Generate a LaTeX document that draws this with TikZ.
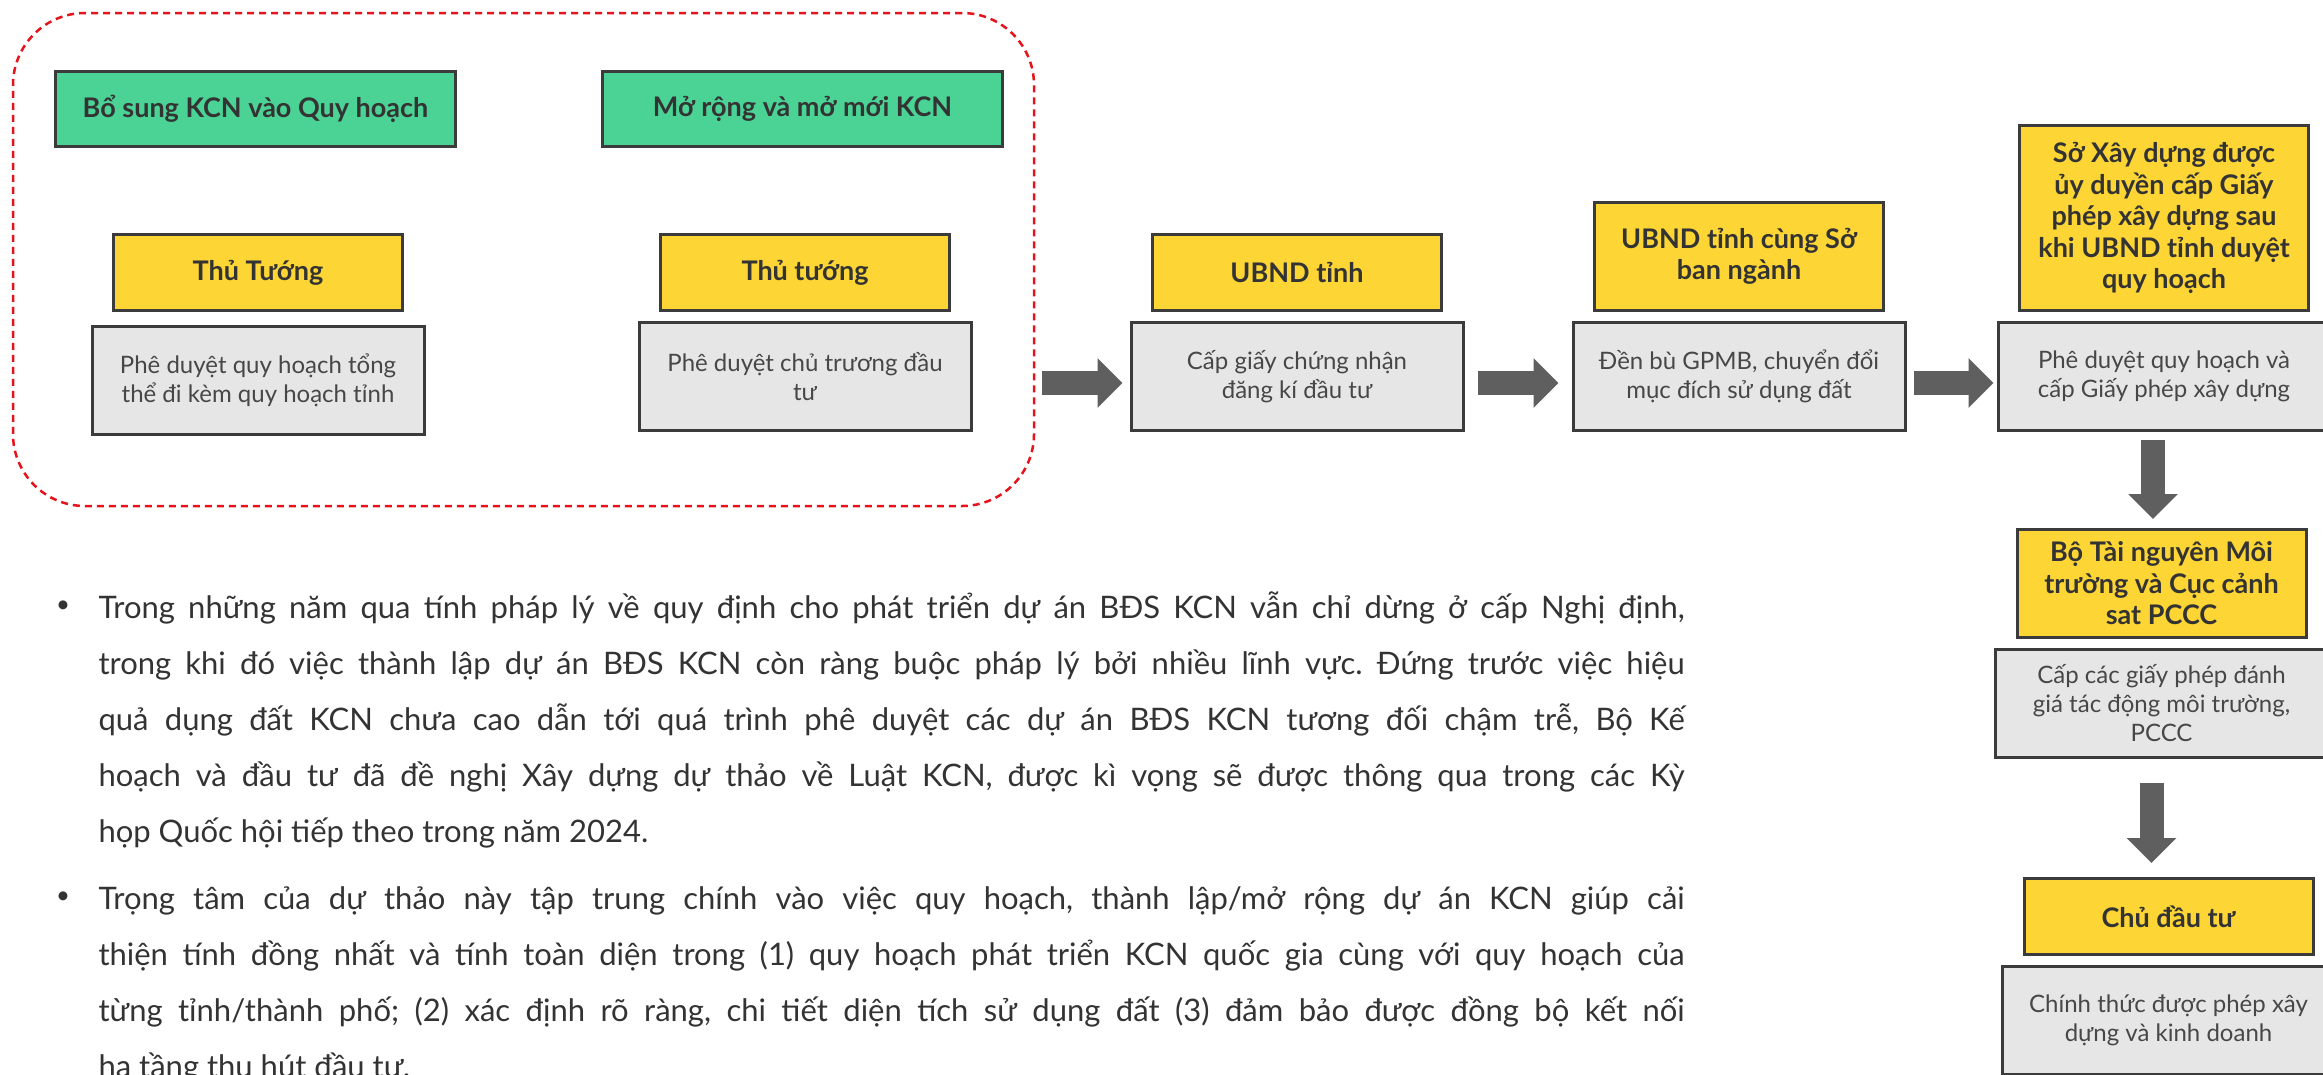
\documentclass[tikz,border=0pt]{standalone}
\usepackage{fontspec}
\setmainfont{Lato}
\usetikzlibrary{arrows.meta,positioning}
\frenchspacing

\definecolor{kcngreen}{HTML}{4BD396}
\definecolor{kcnyellow}{HTML}{FDD535}
\definecolor{kcngray}{HTML}{E6E6E6}
\definecolor{kcnline}{HTML}{3B3B3B}
\definecolor{kcnarrow}{HTML}{5F5F5F}
\definecolor{kcnred}{HTML}{E5141C}
\definecolor{kcntext}{HTML}{333333}

\begin{document}
\begin{tikzpicture}[x=1pt,y=-1pt,node distance=9pt,line width=3pt]
  \tikzstyle{kbox}=[draw=kcnline,line width=3pt,align=center,text=kcntext,inner sep=4pt]
  \tikzstyle{greenbox}=[kbox,fill=kcngreen,minimum width=400pt,minimum height=75pt,
                        font=\bfseries\fontsize{27}{31.5}\selectfont]
  \tikzstyle{yellowbox}=[kbox,fill=kcnyellow,minimum width=289pt,minimum height=76pt,
                         font=\bfseries\fontsize{27}{31.5}\selectfont]
  \tikzstyle{graybox}=[kbox,fill=kcngray,minimum width=332pt,minimum height=108pt,
                       text=kcntext!90,font=\fontsize{24}{29}\selectfont]
  \tikzstyle{groupbox}=[draw=kcnred,line width=2.5pt,dash pattern=on 7pt off 5pt,
                        rounded corners=72pt,minimum width=1021pt,minimum height=493pt]
  \tikzstyle{fatarrow}=[draw=kcnarrow,line width=24pt,-{Triangle[width=48pt,length=25pt]}]
  \tikzstyle{bulletpara}=[anchor=base west,text width=1586pt,align=justify,inner sep=0pt,
                          text=kcntext,font=\fontsize{31}{56}\selectfont]
  \tikzstyle{bulletdot}=[inner sep=0pt,text=kcntext,font=\fontsize{24}{24}\selectfont]

  \fill[white] (0,0) rectangle (2323,1074);
  \useasboundingbox (0,0) rectangle (2323,1074);

  % left group
  \node[groupbox] (grp) at (523.5,259.5) {};
  \node[greenbox] (bs) at (255.5,109) {Bổ sung KCN vào Quy hoạch};
  \node[greenbox] (mr) at (802.5,109) {Mở rộng và mở mới KCN};
  \node[yellowbox] (tt1) at (258,272.5) {Thủ Tướng};
  \node[graybox] (pd1) [below=13pt of tt1] {Phê duyệt quy hoạch tổng\\thể đi kèm quy hoạch tỉnh};
  \node[yellowbox] (tt2) at (805,272.5) {Thủ tướng};
  \node[graybox] (pd2) [below=of tt2] {Phê duyệt chủ trương đầu\\tư};

  % steps
  \node[yellowbox] (ub1) at (1297,272.5) {UBND tỉnh};
  \node[graybox] (pd3) [below=of ub1] {Cấp giấy chứng nhận\\đăng kí đầu tư};
  \node[yellowbox,minimum height=108pt] (ub2) at (1739,256.5) {UBND tỉnh cùng Sở\\ban ngành};
  \node[graybox] (pd4) [below=of ub2] {Đền bù GPMB, chuyển đổi\\mục đích sử dụng đất};
  \node[yellowbox,minimum height=185pt] (sxd) at (2164,218) {Sở Xây dựng được\\ủy duyền cấp Giấy\\phép xây dựng sau\\khi UBND tỉnh duyệt\\quy hoạch};
  \node[graybox] (pd5) [below=of sxd] {Phê duyệt quy hoạch và\\cấp Giấy phép xây dựng};
  \node[yellowbox,minimum height=108pt] (btn) at (2161.5,583.5) {Bộ Tài nguyên Môi\\trường và Cục cảnh\\sat PCCC};
  \node[graybox] (pd6) [below=of btn] {Cấp các giấy phép đánh\\giá tác động môi trường,\\PCCC};
  \node[yellowbox] (cdt) at (2168.5,916.5) {Chủ đầu tư};
  \node[graybox] (pd7) [below=of cdt] {Chính thức được phép xây\\dựng và kinh doanh};

  \draw[fatarrow,shorten <=7pt,shorten >=7pt,transform canvas={yshift=-6.5pt}] (grp.east |- pd3.west) -- (pd3.west);
  \draw[fatarrow,shorten <=13pt,shorten >=13pt,transform canvas={yshift=-6.5pt}] (pd3.east) -- (pd4.west);
  \draw[fatarrow,shorten <=7pt,shorten >=3pt,transform canvas={yshift=-6.5pt}] (pd4.east) -- (pd5.west);
  \draw[fatarrow,shorten <=8pt,shorten >=9pt,transform canvas={xshift=-11pt}] (pd5.south) -- (pd5.south |- btn.north);
  \draw[fatarrow,shorten <=24pt,shorten >=14pt,transform canvas={xshift=-10pt}] (pd6.south) -- (pd6.south |- cdt.north);

  % notes
  \node[bulletdot] (d1) at (63,607) {\textbullet};
  \node[bulletpara] (n1) at (97,618) {Trong những năm qua tính pháp lý về quy định cho phát triển dự án BĐS KCN vẫn chỉ dừng ở cấp Nghị định,\linebreak
    trong khi đó việc thành lập dự án BĐS KCN còn ràng buộc pháp lý bởi nhiều lĩnh vực. Đứng trước việc hiệu\linebreak
    quả dụng đất KCN chưa cao dẫn tới quá trình phê duyệt các dự án BĐS KCN tương đối chậm trễ, Bộ Kế\linebreak
    hoạch và đầu tư đã đề nghị Xây dựng dự thảo về Luật KCN, được kì vọng sẽ được thông qua trong các Kỳ\linebreak
    họp Quốc hội tiếp theo trong năm 2024.};
  \node[bulletdot] (d2) at (63,898) {\textbullet};
  \node[bulletpara] (n2) at (97,909) {Trọng tâm của dự thảo này tập trung chính vào việc quy hoạch, thành lập/mở rộng dự án KCN giúp cải\linebreak
    thiện tính đồng nhất và tính toàn diện trong (1) quy hoạch phát triển KCN quốc gia cùng với quy hoạch của\linebreak
    từng tỉnh/thành phố; (2) xác định rõ ràng, chi tiết diện tích sử dụng đất (3) đảm bảo được đồng bộ kết nối\linebreak
    hạ tầng thu hút đầu tư.};
\end{tikzpicture}
\end{document}
